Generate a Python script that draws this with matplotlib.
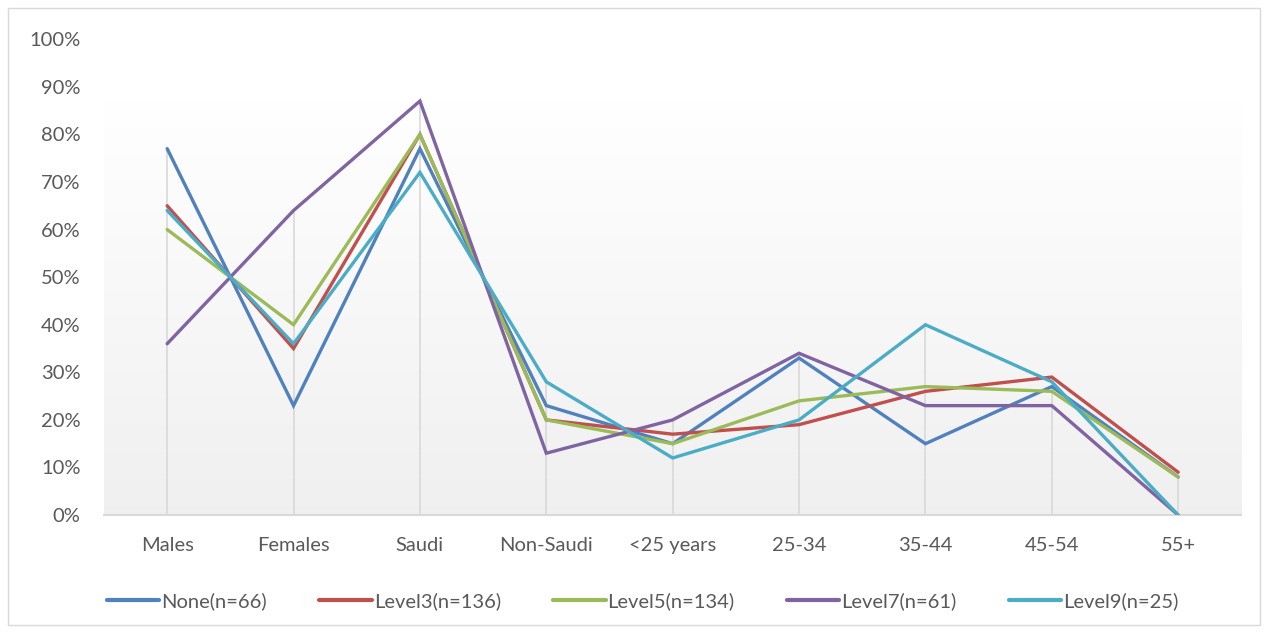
import numpy as np
import matplotlib
matplotlib.use("Agg")
import matplotlib.pyplot as plt
from matplotlib.patches import Rectangle
from matplotlib.ticker import FuncFormatter

plt.rcParams['font.family'] = ['Lato', 'DejaVu Sans']

categories = ['Males', 'Females', 'Saudi', 'Non-Saudi', '<25 years', '25-34', '35-44', '45-54', '55+']
none_n66 = [77, 23, 77, 23, 15, 33, 15, 27, 8]
level3_n136 = [65, 35, 80, 20, 17, 19, 26, 29, 9]
level5_n134 = [60, 40, 80, 20, 15, 24, 27, 26, 8]
level7_n61 = [36, 64, 87, 13, 20, 34, 23, 23, 0]
level9_n25 = [64, 36, 72, 28, 12, 20, 40, 28, 0]

series = [
    ('None(n=66)', none_n66, '#4F81BD'),
    ('Level3(n=136)', level3_n136, '#C0504D'),
    ('Level5(n=134)', level5_n134, '#9BBB59'),
    ('Level7(n=61)', level7_n61, '#8064A2'),
    ('Level9(n=25)', level9_n25, '#4BACC6'),
]

fig = plt.figure(figsize=(12.68, 6.32), dpi=100)
ax = fig.add_axes([0.082, 0.185, 0.897, 0.753])

x = np.arange(len(categories))

# soft vertical gradient behind the lines
grad = np.linspace(0.94, 1.0, 256).reshape(-1, 1)
ax.imshow(np.dstack([grad, grad, grad]), extent=[-0.5, len(categories) - 0.5, 0, 87],
          aspect='auto', origin='lower', zorder=0)

# drop lines from the highest series value down to the axis
tops = np.max([vals for _, vals, _ in series], axis=0)
ax.vlines(x, 0, tops, color='#d9d9d9', lw=1.2, zorder=1)

for label, vals, color in series:
    ax.plot(x, vals, color=color, lw=2.4, label=label, zorder=3,
            solid_joinstyle='miter', solid_capstyle='round')

ax.set_xlim(-0.5, len(categories) - 0.5)
ax.set_ylim(0, 100)
ax.set_yticks(range(0, 101, 10))
ax.yaxis.set_major_formatter(FuncFormatter(lambda v, p: f'{int(v)}%'))
ax.set_xticks(x)
ax.set_xticklabels(categories)
ax.tick_params(axis='both', length=0, labelsize=14.5, colors='#595959')
ax.tick_params(axis='x', pad=16)
ax.tick_params(axis='y', pad=17)

for side in ['top', 'right', 'left']:
    ax.spines[side].set_visible(False)
ax.spines['bottom'].set_color('#d9d9d9')
ax.spines['bottom'].set_linewidth(1.5)

leg = fig.legend(loc='center', bbox_to_anchor=(0.507, 0.049), ncol=5, frameon=False,
                 fontsize=14.5, handlelength=2.6, handletextpad=0.1, columnspacing=2.6)
for t in leg.get_texts():
    t.set_color('#595959')
for h in leg.get_lines():
    h.set_linewidth(3)

fig.patches.append(Rectangle((8 / 1268, 7 / 632), 1252 / 1268, 617 / 632,
                             transform=fig.transFigure, fill=False,
                             edgecolor='#d9d9d9', lw=1))

fig.savefig('out.png', dpi=100)
